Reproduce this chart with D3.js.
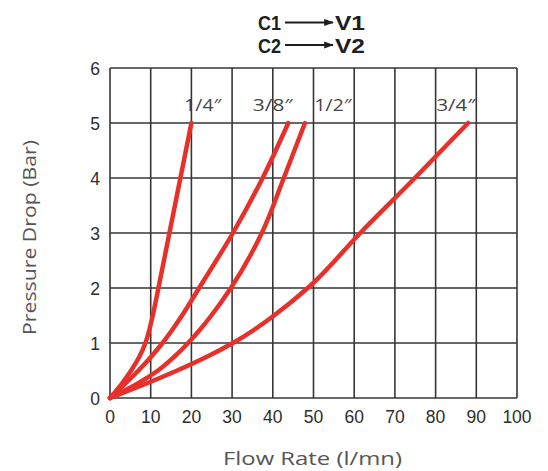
<!DOCTYPE html>
<html>
<head>
<meta charset="utf-8">
<script src="https://cdn.jsdelivr.net/npm/d3@7"></script>
<style>
  body { margin: 0; background: #fff; }
  svg { display: block; }
</style>
</head>
<body>
<svg id="chart"></svg>
<script>
// pressure drop curves per pipe size
// flow (l/mn) at each pressure step (bar)
const sizes = ["1/4\u2033", "3/8\u2033", "1/2\u2033", "3/4\u2033"];
const pressure = [0, 0.25, 0.5, 0.75, 1, 1.25, 1.5, 2, 3, 4, 5];
const flow14 = [0, 2.8, 5.2, 7.2, 8.7, 9.7, 10.5, 11.9, 14.6, 17.3, 20];
const flow38 = [0, 3.6, 7.0, 10.1, 12.9, 15.4, 17.7, 21.9, 30.2, 37.5, 43.8];
const flow12 = [0, 6.5, 11.8, 15.8, 19.2, 22.2, 24.9, 29.7, 37.3, 42.7, 47.9];
const flow34 = [0, 8.5, 16.5, 23.8, 30.2, 35.6, 40.3, 48.6, 61.5, 74.9, 88.0];
const labelFlow = [22.8, 40, 54.8, 85];
const xTicks = [0, 10, 20, 30, 40, 50, 60, 70, 80, 90, 100];
const yTicks = [0, 1, 2, 3, 4, 5, 6];

const W = 548, H = 471;
const margin = {top: 68, right: 31, bottom: 73, left: 110};
const width = W - margin.left - margin.right;
const height = H - margin.top - margin.bottom;

const svg = d3.select("#chart").attr("width", W).attr("height", H);
const g = svg.append("g")
  .attr("transform", "translate(" + margin.left + "," + margin.top + ")");

const x = d3.scaleLinear().domain([0, 100]).range([0, width]);
const y = d3.scaleLinear().domain([0, 6]).range([height, 0]);

// grid
g.selectAll(".vx").data(xTicks).enter().append("line")
  .attr("x1", d => x(d)).attr("x2", d => x(d))
  .attr("y1", 0).attr("y2", height)
  .style("stroke", "#363636").style("stroke-width", 1.6);
g.selectAll(".hy").data(yTicks).enter().append("line")
  .attr("x1", 0).attr("x2", width)
  .attr("y1", d => y(d)).attr("y2", d => y(d))
  .style("stroke", "#363636").style("stroke-width", 1.6);

// tick labels
g.selectAll(".xl").data(xTicks).enter().append("text")
  .attr("x", d => x(d)).attr("y", height + 25)
  .attr("text-anchor", "middle")
  .style("font-family", "Liberation Sans, Arial, sans-serif")
  .style("font-size", "17.5px").style("fill", "#2e2e2e")
  .text(d => d);
g.selectAll(".yl").data(yTicks).enter().append("text")
  .attr("x", -10).attr("y", d => y(d) + 6.5)
  .attr("text-anchor", "end")
  .style("font-family", "Liberation Sans, Arial, sans-serif")
  .style("font-size", "17.5px").style("fill", "#2e2e2e")
  .text(d => d);

// curves, flow as a function of pressure
const series = [flow14, flow38, flow12, flow34];
const line = d3.line()
  .x(d => x(d[0]))
  .y(d => y(d[1]))
  .curve(d3.curveMonotoneY);

series.forEach(s => {
  g.append("path")
    .datum(s.map((f, i) => [f, pressure[i]]))
    .attr("d", line)
    .style("fill", "none")
    .style("stroke", "#e8302a")
    .style("stroke-width", 4.5)
    .style("stroke-linecap", "round");
});

// size labels
const labelLen = [37, 40, 37, 39];
g.selectAll(".sl").data(sizes).enter().append("text")
  .attr("x", (d, i) => x(labelFlow[i]) - labelLen[i] / 2)
  .attr("y", y(5.22))
  .attr("textLength", (d, i) => labelLen[i])
  .attr("lengthAdjust", "spacingAndGlyphs")
  .style("font-family", "Open Sans, sans-serif")
  .style("font-size", "17px").style("fill", "#444")
  .text(d => d);

// axis titles
svg.append("text")
  .attr("x", 223).attr("y", 465)
  .attr("textLength", 179).attr("lengthAdjust", "spacingAndGlyphs")
  .style("font-family", "Open Sans, sans-serif")
  .style("font-size", "19px").style("fill", "#555")
  .text("Flow Rate (l/mn)");
svg.append("text")
  .attr("transform", "translate(36,335) rotate(-90)")
  .attr("textLength", 195).attr("lengthAdjust", "spacingAndGlyphs")
  .style("font-family", "Open Sans, sans-serif")
  .style("font-size", "19px").style("fill", "#555")
  .text("Pressure Drop (Bar)");

// header C1 -> V1, C2 -> V2
svg.append("defs").append("marker")
  .attr("id", "arr").attr("viewBox", "0 0 12 10")
  .attr("refX", 11).attr("refY", 5)
  .attr("markerWidth", 6).attr("markerHeight", 4)
  .attr("markerUnits", "strokeWidth")
  .attr("orient", "auto")
  .append("path").attr("d", "M0,0.5 L12,5 L0,9.5 Z").style("fill", "#1e1e1e");

const header = [["C1", "V1"], ["C2", "V2"]];
header.forEach((h, i) => {
  const by = 30 + i * 22.5;
  svg.append("text")
    .attr("x", 258).attr("y", by)
    .attr("textLength", 23).attr("lengthAdjust", "spacingAndGlyphs")
    .style("font-family", "Liberation Sans Narrow, Liberation Sans, sans-serif")
    .style("font-weight", "bold").style("font-size", "20px").style("fill", "#1e1e1e")
    .text(h[0]);
  svg.append("line")
    .attr("x1", 285).attr("x2", 333)
    .attr("y1", by - 7.5).attr("y2", by - 7.5)
    .style("stroke", "#1e1e1e").style("stroke-width", 2)
    .attr("marker-end", "url(#arr)");
  svg.append("text")
    .attr("x", 335).attr("y", by)
    .attr("textLength", 30).attr("lengthAdjust", "spacingAndGlyphs")
    .style("font-family", "Liberation Sans Narrow, Liberation Sans, sans-serif")
    .style("font-weight", "bold").style("font-size", "20px").style("fill", "#1e1e1e")
    .text(h[1]);
});
</script>
</body>
</html>
